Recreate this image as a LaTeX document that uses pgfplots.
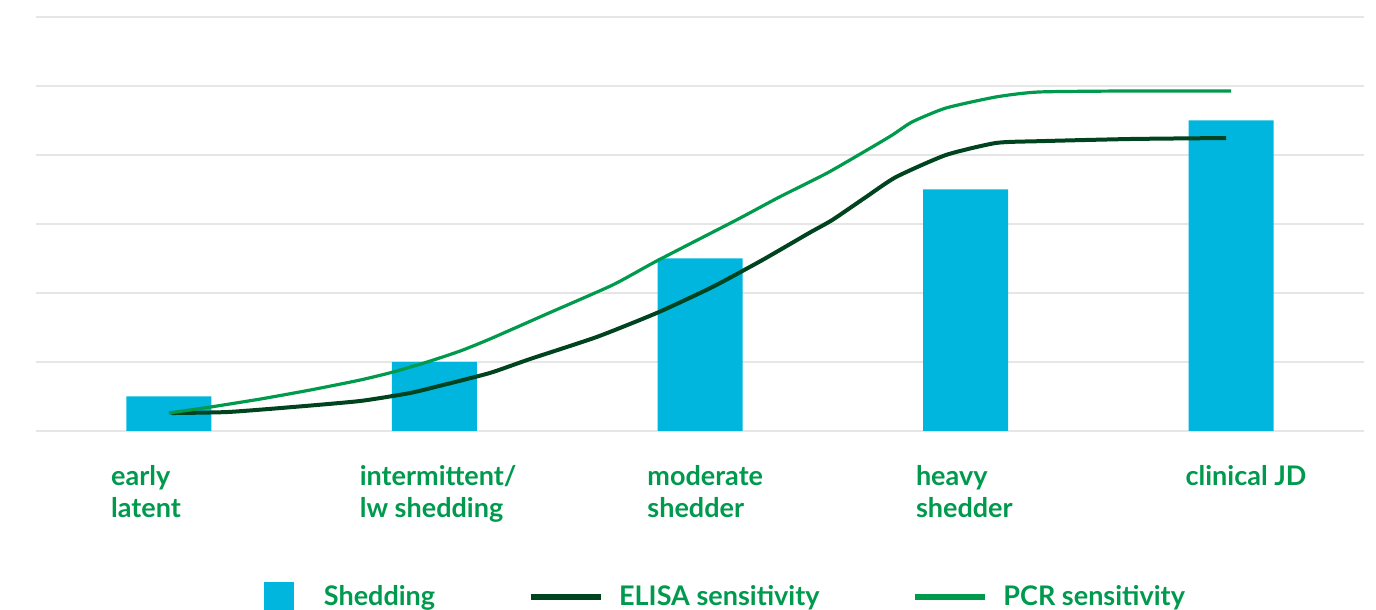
\documentclass[border=0pt]{standalone}
\usepackage{pgfplots}
\pgfplotsset{compat=1.18}
\usepackage{fontspec}
\setmainfont{Lato}

\definecolor{shedblue}{HTML}{00B5DE}
\definecolor{elisagreen}{HTML}{00441F}
\definecolor{pcrgreen}{HTML}{009A4C}
\definecolor{labelgreen}{HTML}{009A4E}
\definecolor{gridgray}{HTML}{E6E6E6}

\begin{document}
\begin{tikzpicture}
\begin{axis}[
  name=ax,
  scale only axis,
  width=664pt, height=207pt,
  xmin=-0.5, xmax=4.5, ymin=0, ymax=6,
  axis line style={draw=none},
  ytick={0,1,...,6}, yticklabels={},
  ymajorgrids, grid style={gridgray, line width=1pt},
  major tick length=0pt,
  xtick={0,1,2,3,4},
  xticklabels={{early\\latent},
    {\kern-8.5pt intermittent/\\\kern-8.5pt lw shedding},
    {\kern2.5pt moderate\\\kern2.5pt shedder},
    {\kern4pt heavy\\\kern4pt shedder},
    {\kern6pt clinical JD}},
  xticklabel style={align=left, anchor=north west, inner sep=0pt,
    xshift=-29pt, yshift=-17pt,
    font=\fontsize{13.5}{16}\selectfont\bfseries, text=labelgreen},
  legend columns=3,
  legend style={draw=none, fill=none,
    at={(axis description cs:0.509,-0.4)}, anchor=center,
    nodes={inner sep=0pt},
    font=\fontsize{13.5}{16}\selectfont\bfseries, text=labelgreen,
    /tikz/every odd column/.append style={column sep=7.5pt},
    /tikz/every even column/.append style={column sep=46.5pt}},
]
\addplot[ybar, bar width=42.5pt, fill=shedblue, draw=none,
  legend image code/.code={\fill[shedblue] (12.5pt,-7.5pt) rectangle (27.5pt,7.5pt);
    \path[draw=none, fill=none] (0pt,0pt) -- (35pt,0pt);}]
  coordinates {(0,0.5) (1,1) (2,2.5) (3,3.5) (4,4.5)};
\addlegendentry{Shedding}

\addplot[elisagreen, line width=2pt, smooth, tension=0.35,
  legend image code/.code={\draw[elisagreen, line width=3pt] (0pt,0pt) -- (35pt,0pt);}]
  coordinates {
  (0.01,0.26) (0.222,0.275) (0.469,0.348) (0.721,0.435) (0.909,0.551)
  (1.033,0.667) (1.209,0.841) (1.360,1.043) (1.611,1.362) (1.837,1.710)
  (2.047,2.087) (2.235,2.478) (2.411,2.870) (2.498,3.058) (2.625,3.391)
  (2.738,3.681) (2.926,4.0) (3.114,4.174) (3.275,4.20) (3.624,4.232)
  (3.981,4.246)};
\addlegendentry{ELISA sensitivity}

\addplot[pcrgreen, line width=1.6pt, smooth, tension=0.35,
  legend image code/.code={\draw[pcrgreen, line width=3pt] (0pt,0pt) -- (35pt,0pt);}]
  coordinates {
  (0,0.261) (0.158,0.348) (0.346,0.464) (0.533,0.594) (0.721,0.739)
  (0.845,0.855) (0.973,1.0) (1.097,1.159) (1.209,1.333) (1.423,1.696)
  (1.671,2.116) (1.837,2.464) (2.137,3.058) (2.299,3.391) (2.486,3.754)
  (2.712,4.261) (2.798,4.478) (2.926,4.681) (3.114,4.841) (3.275,4.913)
  (3.624,4.928) (4.0,4.928)};
\addlegendentry{PCR sensitivity}
\end{axis}
\pgfresetboundingbox
\path[use as bounding box] ([xshift=-18pt,yshift=-89.5pt]ax.south west)
  rectangle ([xshift=6pt,yshift=8.5pt]ax.north east);
\end{tikzpicture}
\end{document}
